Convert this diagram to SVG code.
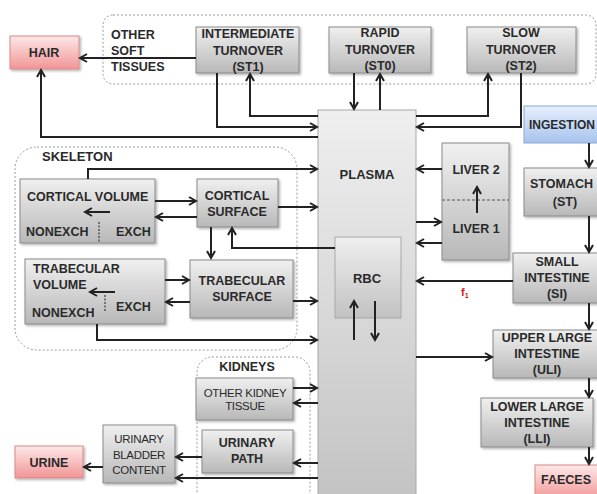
<svg xmlns="http://www.w3.org/2000/svg" width="597" height="494" viewBox="0 0 597 494">
<defs>
<linearGradient id="gGray" x1="0" y1="0" x2="0" y2="1"><stop offset="0" stop-color="#f0f0f0"/><stop offset="1" stop-color="#b8b8b8"/></linearGradient>
<linearGradient id="gPlasma" x1="0" y1="0" x2="0" y2="1"><stop offset="0" stop-color="#efefef"/><stop offset="1" stop-color="#c2c2c2"/></linearGradient>
<linearGradient id="gPink" x1="0" y1="0" x2="0" y2="1"><stop offset="0" stop-color="#fde8e8"/><stop offset="1" stop-color="#f29595"/></linearGradient>
<linearGradient id="gBlue" x1="0" y1="0" x2="0" y2="1"><stop offset="0" stop-color="#e6effd"/><stop offset="1" stop-color="#a7c3ee"/></linearGradient>
<filter id="sh" x="-10%" y="-10%" width="130%" height="130%"><feDropShadow dx="1.5" dy="1.5" stdDeviation="1" flood-color="#000" flood-opacity="0.3"/></filter>
<marker id="ah" markerUnits="userSpaceOnUse" markerWidth="10" markerHeight="10" refX="7" refY="4" orient="auto" viewBox="-1 -1 10 10">
<path d="M0,0 L7,4 L0,8" fill="none" stroke="#222" stroke-width="2"/>
</marker>
<style>
.box{fill:url(#gGray);stroke:#8a8a8a;stroke-width:1;filter:url(#sh)}
.pink{fill:url(#gPink);stroke:#d88a8a;stroke-width:1;filter:url(#sh)}
.blue{fill:url(#gBlue);stroke:#8aa8d6;stroke-width:1}
.plasma{fill:url(#gPlasma);stroke:#a8a8a8;stroke-width:1}
.grp{fill:none;stroke:#999;stroke-width:1;stroke-dasharray:2 2}
.t{font-family:"Liberation Sans",Arial,sans-serif;font-weight:bold;font-size:12.5px;fill:#2a2a2a}
.c{text-anchor:middle}
.r{font-weight:normal;font-size:11.5px;letter-spacing:-0.3px}
.big{font-size:13px}
.cn path{fill:none;stroke:#222;stroke-width:2;marker-end:url(#ah)}
.dv{stroke:#555;stroke-width:1.5;stroke-dasharray:2 1.5}
</style>
</defs>
<rect width="597" height="494" fill="#fff"/>

<g id="groups">
<rect class="grp" x="103" y="15" width="493" height="69" rx="10"/>
<rect class="grp" x="15" y="147" width="282" height="203" rx="22"/>
<rect class="grp" x="197" y="357" width="113" height="150" rx="15"/>
<text class="t big" x="42" y="161">SKELETON</text>
<text class="t" x="111" y="39">OTHER</text>
<text class="t" x="111" y="55">SOFT</text>
<text class="t" x="111" y="71">TISSUES</text>
<text class="t c" x="247" y="371">KIDNEYS</text>
</g>

<g id="plasma"><rect class="plasma" x="318" y="110" width="98" height="400"/><text class="t c big" x="367" y="179">PLASMA</text></g>
<g id="rbc"><rect class="plasma" x="335" y="237" width="66" height="81"/><text class="t c big" x="367" y="283">RBC</text></g>

<g id="hair"><rect class="pink" x="10" y="36" width="69" height="33"/><text class="t c" x="44" y="57">HAIR</text></g>
<g id="st1"><rect class="box" x="196" y="27" width="103" height="46"/>
<text class="t c" x="248" y="38">INTERMEDIATE</text><text class="t c" x="248" y="55">TURNOVER</text><text class="t c" x="248" y="71">(ST1)</text></g>
<g id="st0"><rect class="box" x="329" y="27" width="102" height="46"/>
<text class="t c" x="380" y="37">RAPID</text><text class="t c" x="380" y="54">TURNOVER</text><text class="t c" x="380" y="70">(ST0)</text></g>
<g id="st2"><rect class="box" x="467" y="27" width="109" height="46"/>
<text class="t c" x="521" y="37">SLOW</text><text class="t c" x="521" y="54">TURNOVER</text><text class="t c" x="521" y="70">(ST2)</text></g>

<g id="ingestion"><rect class="blue" x="524" y="106" width="80" height="37"/><text class="t" x="529" y="129" style="font-size:12px">INGESTION</text></g>
<g id="stomach"><rect class="box" x="524" y="168" width="80" height="48"/><text class="t" x="530" y="188">STOMACH</text><text class="t c" x="565" y="206">(ST)</text></g>
<g id="si"><rect class="box" x="513" y="253" width="90" height="50"/>
<text class="t c" x="557" y="266">SMALL</text><text class="t c" x="557" y="282">INTESTINE</text><text class="t c" x="557" y="298">(SI)</text></g>
<g id="uli"><rect class="box" x="493" y="330" width="110" height="48"/>
<text class="t c" x="547" y="342">UPPER LARGE</text><text class="t c" x="547" y="358">INTESTINE</text><text class="t c" x="547" y="374">(ULI)</text></g>
<g id="lli"><rect class="box" x="481" y="398" width="112" height="49"/>
<text class="t c" x="537" y="411">LOWER LARGE</text><text class="t c" x="537" y="427">INTESTINE</text><text class="t c" x="537" y="443">(LLI)</text></g>
<g id="faeces"><rect class="pink" x="535" y="465" width="70" height="35"/><text class="t c" x="566" y="484">FAECES</text></g>

<g id="liver"><rect class="box" x="442" y="143" width="67" height="117"/>
<line x1="442" y1="200" x2="509" y2="200" stroke="#555" stroke-width="1.2" stroke-dasharray="3 2"/>
<text class="t c" x="476" y="174">LIVER 2</text><text class="t c" x="476" y="233">LIVER 1</text></g>

<g id="cortical-volume"><rect class="box" x="20" y="179" width="135" height="64"/>
<text class="t" x="27" y="201">CORTICAL VOLUME</text><text class="t" x="26" y="236">NONEXCH</text><text class="t" x="116" y="236">EXCH</text>
<line class="dv" x1="99" y1="222" x2="99" y2="242"/></g>
<g id="cortical-surface"><rect class="box" x="197" y="179" width="81" height="48"/>
<text class="t c" x="237" y="200">CORTICAL</text><text class="t c" x="237" y="216">SURFACE</text></g>
<g id="trabecular-volume"><rect class="box" x="25" y="259" width="140" height="65"/>
<text class="t" x="33" y="273">TRABECULAR</text><text class="t" x="33" y="289">VOLUME</text><text class="t" x="32" y="317">NONEXCH</text><text class="t" x="116" y="311">EXCH</text>
<line class="dv" x1="105" y1="295" x2="105" y2="311"/></g>
<g id="trabecular-surface"><rect class="box" x="190" y="260" width="103" height="58"/>
<text class="t c" x="242" y="285">TRABECULAR</text><text class="t c" x="242" y="301">SURFACE</text></g>

<g id="other-kidney"><rect class="box" x="196" y="378" width="97" height="42"/>
<text class="t c r" x="245" y="397">OTHER KIDNEY</text><text class="t c r" x="245" y="410">TISSUE</text></g>
<g id="urinary-path"><rect class="box" x="202" y="430" width="91" height="43"/>
<text class="t c" x="247" y="447">URINARY</text><text class="t c" x="247" y="463">PATH</text></g>
<g id="bladder"><rect class="box" x="103" y="425" width="72" height="58"/>
<text class="t c r" x="139" y="443">URINARY</text><text class="t c r" x="139" y="459">BLADDER</text><text class="t c r" x="139" y="474">CONTENT</text></g>
<g id="urine"><rect class="pink" x="15" y="446" width="68" height="32"/><text class="t c" x="49" y="467">URINE</text></g>

<g id="connectors" class="cn">
<path d="M196,58 H80"/>
<path d="M318,137 H41 V70"/>
<path d="M217,73 V127 H317"/>
<path d="M318,116 H250 V74"/>
<path d="M354,73 V109"/>
<path d="M380,110 V74"/>
<path d="M416,116 H488 V74"/>
<path d="M521,73 V127 H417"/>
<path d="M589,143 V167"/>
<path d="M589,216 V252"/>
<path d="M513,281 H417"/>
<path d="M589,303 V329"/>
<path d="M416,357 H492"/>
<path d="M589,378 V397"/>
<path d="M589,447 V464"/>
<path d="M442,169 H417"/>
<path d="M416,222 H441"/>
<path d="M442,243 H417"/>
<path d="M477,213 V187"/>
<path d="M354,340 V301"/>
<path d="M375,301 V340"/>
<path d="M335,248 H232 V228"/>
<path d="M88,179 V169 H317"/>
<path d="M155,201 H196"/>
<path d="M197,217 H156"/>
<path d="M278,207 H317"/>
<path d="M211,227 V258"/>
<path d="M165,280 H189"/>
<path d="M190,302 H166"/>
<path d="M293,301 H317"/>
<path d="M97,324 V340 H317"/>
<path d="M110,212 H85"/>
<path d="M115,292 H90"/>
<path d="M293,388 H317"/>
<path d="M318,403 H294"/>
<path d="M318,463 H294"/>
<path d="M318,478 H176"/>
<path d="M202,457 H176"/>
<path d="M103,467 H84"/>
</g>
<text x="461" y="296" font-family="Liberation Sans,Arial,sans-serif" font-weight="bold" font-size="11" fill="#d42020">f<tspan font-size="7" dy="2">1</tspan></text>
</svg>
